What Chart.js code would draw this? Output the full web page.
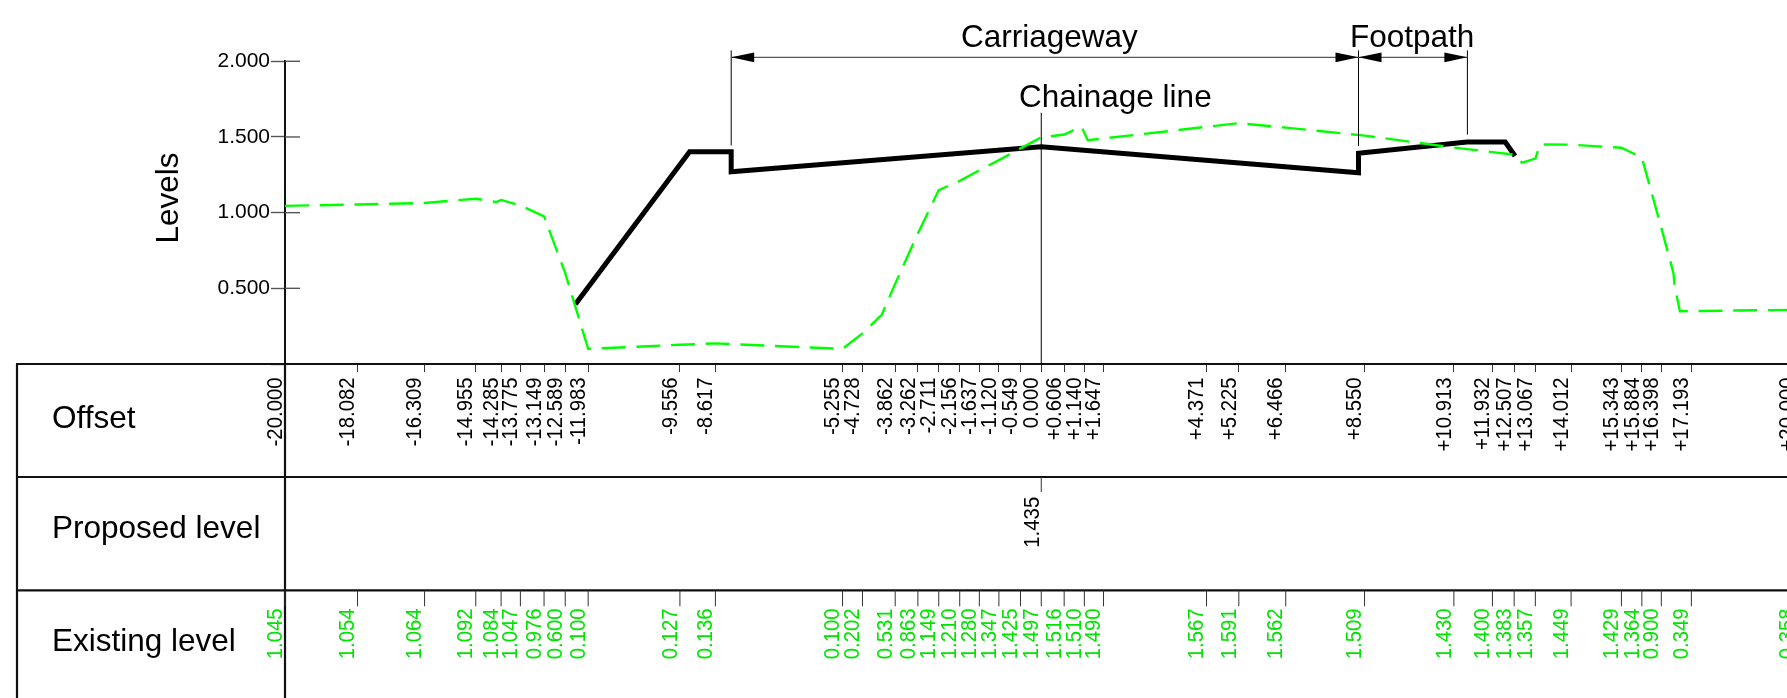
<!DOCTYPE html>
<html>
<head>
<meta charset="utf-8">
<title>Levels</title>
<script src="https://cdn.jsdelivr.net/npm/chart.js@4"></script>
<style>
  html, body { margin: 0; padding: 0; background: #fff; overflow: hidden; }
  canvas { display: block; }
</style>
</head>
<body>
<canvas id="levelChart" width="1800" height="698"></canvas>
<script>
// tick rows of the table
const offsetTicks = [
  -20, -18.082, -16.309, -14.955, -14.285, -13.775, -13.149, -12.589, -11.983,
  -9.556, -8.617, -5.255, -4.728, -3.862, -3.262, -2.711, -2.156, -1.637, -1.12,
  -0.549, 0, 0.606, 1.14, 1.647, 4.371, 5.225, 6.466, 8.55, 10.913, 11.932,
  12.507, 13.067, 14.012, 15.343, 15.884, 16.398, 17.193, 20
];
const existingLevels = [
  1.045, 1.054, 1.064, 1.092, 1.084, 1.047, 0.976, 0.6, 0.1,
  0.127, 0.136, 0.1, 0.202, 0.531, 0.863, 1.149, 1.21, 1.28, 1.347,
  1.425, 1.497, 1.516, 1.51, 1.49, 1.567, 1.591, 1.562, 1.509, 1.43, 1.4,
  1.383, 1.357, 1.449, 1.429, 1.364, 0.9, 0.349, 0.358
];
const proposedOffsets = [0];
const proposedLevels = [1.435];
const levelTicks = [0, 0.5, 1, 1.5, 2];

// green surveyed line, it has a few more vertices than the table
const groundX = [
  -20, -18.082, -16.309, -14.955, -14.42, -14.285, -13.775, -13.149, -12.589, -11.983,
  -9.556, -8.617, -5.255, -4.728, -4.22, -3.862, -3.262, -2.711, -2.156, -1.637, -1.12,
  -0.549, 0, 0.606, 1.068, 1.23, 1.647, 4.371, 5.225, 6.466, 8.55, 10.913, 11.932,
  12.507, 12.72, 13.067, 13.19, 14.012, 15.343, 15.884, 16.398, 16.72, 16.75, 16.89, 20
];
const groundY = [
  1.045, 1.054, 1.064, 1.092, 1.07, 1.084, 1.047, 0.976, 0.6, 0.1,
  0.127, 0.136, 0.1, 0.202, 0.325, 0.531, 0.863, 1.149, 1.21, 1.28, 1.347,
  1.425, 1.497, 1.516, 1.568, 1.478, 1.49, 1.567, 1.591, 1.562, 1.509, 1.43, 1.4,
  1.383, 1.33, 1.357, 1.451, 1.449, 1.429, 1.364, 0.9, 0.6, 0.517, 0.349, 0.358
];

// black proposed section
const sectionX = [-12.32, -9.3, -8.2, -8.2, 0, 8.39, 8.39, 11.26, 12.27, 12.53];
const sectionY = [0.394, 1.403, 1.403, 1.27, 1.435, 1.264, 1.392, 1.467, 1.467, 1.374];

// dimension marks above the section
const carriagewaySpan = [-8.2, 8.39];
const footpathSpan = [8.39, 11.27];
const dimensionLevel = 2.026;
const dimensionTop = 2.072;
const chainageTop = 1.66;

const rowLabels = ["Offset", "Proposed level", "Existing level"];
const textFont = "'Liberation Sans', Arial, sans-serif";

function xyPoints(xs, ys) {
  return xs.map(function (x, i) {
    return { x: x, y: ys[i] };
  });
}

function offsetLabel(value) {
  if (value > 0) return "+" + value.toFixed(3);
  return value.toFixed(3);
}

function line(ctx, x1, y1, x2, y2, color, width) {
  ctx.strokeStyle = color;
  ctx.lineWidth = width;
  ctx.beginPath();
  ctx.moveTo(x1, y1);
  ctx.lineTo(x2, y2);
  ctx.stroke();
}

function arrow(ctx, tipX, y, dir) {
  ctx.fillStyle = "#000";
  ctx.beginPath();
  ctx.moveTo(tipX, y);
  ctx.lineTo(tipX + dir * 23, y - 4.8);
  ctx.lineTo(tipX + dir * 23, y + 4.8);
  ctx.closePath();
  ctx.fill();
}

// the rotated numbers in the drawing are a touch wider than plain text
function upText(ctx, text, x, y, color) {
  ctx.save();
  ctx.translate(x, y);
  ctx.rotate(-Math.PI / 2);
  ctx.scale(1, 1.05);
  ctx.fillStyle = color;
  ctx.textAlign = "right";
  ctx.textBaseline = "alphabetic";
  ctx.fillText(text, 0, 0);
  ctx.restore();
}

// table rows, dimension marks and other bits the axes do not give
const sectionSheet = {
  id: "sectionSheet",
  afterDatasetsDraw: function (chart) {
    const ctx = chart.ctx;
    const xs = chart.scales.x;
    const ys = chart.scales.y;
    const axisX = xs.getPixelForValue(-20);
    const rowTop = ys.getPixelForValue(0);
    const rowTwo = 477;
    const rowThree = 590.3;

    ctx.save();
    ctx.lineCap = "butt";

    // table frame
    line(ctx, 16, rowTop, 1800, rowTop, "#111", 2.2);
    line(ctx, 16, rowTwo, 1800, rowTwo, "#111", 2.2);
    line(ctx, 16, rowThree, 1800, rowThree, "#111", 2.2);
    line(ctx, 17, rowTop, 17, 698, "#111", 2.2);
    line(ctx, axisX, rowTop, axisX, 698, "#111", 2.2);

    // y ticks also stick out to the right of the axis
    levelTicks.forEach(function (v) {
      if (v === 0) return;
      const py = ys.getPixelForValue(v);
      line(ctx, axisX, py, axisX + 15, py, "#555", 1.4);
    });

    // row names
    ctx.fillStyle = "#000";
    ctx.textAlign = "left";
    ctx.textBaseline = "alphabetic";
    ctx.font = "31.5px " + textFont;
    ctx.fillText(rowLabels[0], 52, 428.3);
    ctx.fillText(rowLabels[1], 52, 537.7);
    ctx.fillText(rowLabels[2], 52, 651);

    // axis title
    ctx.save();
    ctx.translate(178, 198);
    ctx.rotate(-Math.PI / 2);
    ctx.textAlign = "center";
    ctx.fillText("Levels", 0, 0);
    ctx.restore();

    // offset and existing level rows
    ctx.font = "20.4px " + textFont;
    offsetTicks.forEach(function (v, i) {
      const px = xs.getPixelForValue(v);
      line(ctx, px, rowThree, px, rowThree + 16, "#333", 1);
      upText(ctx, offsetLabel(v), px - 3.3, 377.3, "#000");
      upText(ctx, existingLevels[i].toFixed(3), px - 3.3, 608.3, "#00e400");
    });

    // proposed level row
    proposedOffsets.forEach(function (v, i) {
      const px = xs.getPixelForValue(v);
      line(ctx, px, rowTwo, px, rowTwo + 15, "#333", 1);
      upText(ctx, proposedLevels[i].toFixed(3), px - 2.4, 496.7, "#000");
    });

    // chainage line
    const zeroX = xs.getPixelForValue(0);
    line(ctx, zeroX, ys.getPixelForValue(chainageTop), zeroX, rowTop, "#000", 1);

    // dimension marks
    const dimY = ys.getPixelForValue(dimensionLevel);
    const dimTop = ys.getPixelForValue(dimensionTop);
    const cwLeft = xs.getPixelForValue(carriagewaySpan[0]);
    const cwRight = xs.getPixelForValue(carriagewaySpan[1]);
    const fpRight = xs.getPixelForValue(footpathSpan[1]);
    line(ctx, cwLeft, dimTop, cwLeft, ys.getPixelForValue(1.444), "#000", 1);
    line(ctx, cwRight, dimTop, cwRight, ys.getPixelForValue(1.44), "#000", 1);
    line(ctx, fpRight, dimTop, fpRight, ys.getPixelForValue(1.516), "#000", 1);
    line(ctx, cwLeft, dimY, fpRight, dimY, "#555", 1.4);
    arrow(ctx, cwLeft, dimY, 1);
    arrow(ctx, cwRight, dimY, -1);
    arrow(ctx, cwRight, dimY, 1);
    arrow(ctx, fpRight, dimY, -1);

    ctx.fillStyle = "#000";
    ctx.textAlign = "left";
    ctx.font = "31.5px " + textFont;
    ctx.fillText("Carriageway", 961, 47);
    ctx.fillText("Footpath", 1350, 47);
    ctx.fillText("Chainage line", 1019, 107);

    ctx.restore();
  }
};

document.addEventListener("DOMContentLoaded", function () {
  const ctx = document.getElementById("levelChart").getContext("2d");

  new Chart(ctx, {
    type: "scatter",
    data: {
      datasets: [
        {
          label: "Existing level",
          data: xyPoints(groundX, groundY),
          showLine: true,
          borderColor: "#00ff00",
          borderWidth: 2.4,
          borderDash: [24, 10.7],
          pointRadius: 0,
          tension: 0
        },
        {
          label: "Proposed level",
          data: xyPoints(sectionX, sectionY),
          showLine: true,
          borderColor: "#000",
          borderWidth: 5,
          pointRadius: 0,
          tension: 0
        }
      ]
    },
    plugins: [sectionSheet],
    options: {
      responsive: false,
      animation: false,
      layout: {
        padding: { top: 61.3, right: 2.5, left: 0, bottom: 0 }
      },
      plugins: {
        legend: { display: false },
        tooltip: { enabled: false }
      },
      scales: {
        x: {
          type: "linear",
          min: -20,
          max: 20,
          afterBuildTicks: function (scale) {
            scale.ticks = offsetTicks.map(function (v) {
              return { value: v };
            });
          },
          afterFit: function (scale) {
            scale.height = 334;
            scale.paddingLeft = 0;
            scale.paddingRight = 0;
          },
          grid: {
            drawOnChartArea: false,
            tickLength: 8,
            tickColor: "#333",
            tickWidth: 1
          },
          border: { display: false },
          ticks: {
            display: false,
            autoSkip: false
          }
        },
        y: {
          min: 0,
          max: 2,
          afterBuildTicks: function (scale) {
            scale.ticks = levelTicks.map(function (v) {
              return { value: v };
            });
          },
          afterFit: function (scale) {
            scale.width = 285;
            scale.paddingTop = 0;
            scale.paddingBottom = 0;
          },
          grid: {
            drawOnChartArea: false,
            tickLength: 14,
            tickColor: "#555",
            tickWidth: 1.4
          },
          border: { color: "#111", width: 2 },
          ticks: {
            padding: 1,
            color: "#000",
            font: { family: textFont, size: 21 },
            callback: function (value) {
              return value === 0 ? "" : value.toFixed(3);
            }
          }
        }
      }
    }
  });
});
</script>
</body>
</html>
